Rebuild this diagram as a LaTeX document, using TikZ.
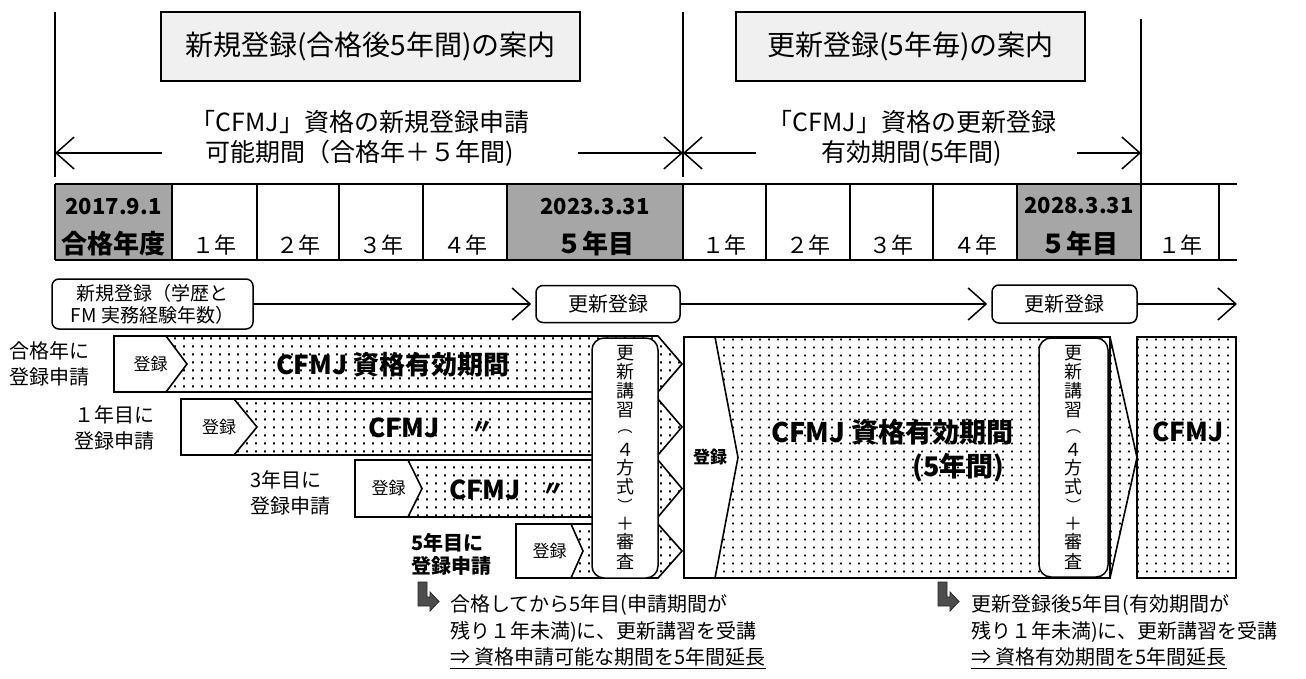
\documentclass[tikz,border=0pt]{standalone}
\usepackage{fontspec}
\setmainfont{Noto Sans CJK JP}
\usetikzlibrary{arrows.meta,patterns.meta}
\newcommand{\myfs}[2]{\fontsize{#1pt}{#2pt}\selectfont}
\tikzdeclarepattern{
  name=mydots,
  type=uncolored,
  bounding box={(0pt,0pt) and (9pt,8pt)},
  tile size={(9pt,8pt)},
  code={
    \pgfpathrectangle{\pgfpoint{3.5pt}{3pt}}{\pgfpoint{2pt}{2pt}}
    \pgfusepath{fill}
  }
}
\begin{document}
\begin{tikzpicture}[x=1pt,y=-1pt,
  vl/.style={line width=1.4pt},
  hdr/.style={draw, line width=2pt, fill=black!6, inner sep=0pt, font=\myfs{28}{32}},
  spantxt/.style={font=\myfs{25}{30}, align=center},
  arr/.style={line width=1.5pt, -{Straight Barb[length=18pt,width=32pt]}},
  tbl/.style={line width=1.8pt},
  shd/.style={fill=black!35},
  tdate/.style={font=\myfs{22}{22}\bfseries},
  tyr/.style={font=\myfs{22}{22}},
  tbig/.style={font=\myfs{26}{26}\bfseries},
  rbox/.style={draw, line width=1.5pt, rounded corners=7pt, fill=white, inner sep=0pt},
  vbox/.style={draw, line width=1.5pt, rounded corners=12pt, fill=white, inner sep=0pt},
  dotarea/.style={line width=1.6pt, preaction={fill=white}, pattern=mydots},
  wharea/.style={line width=1.6pt, fill=white},
  lbl/.style={font=\myfs{20}{26}, align=left, anchor=west, inner sep=0pt},
  reg/.style={font=\myfs{17}{17}},
  rowtxt/.style={font=\myfs{26}{26}\bfseries},
  vch/.style={font=\myfs{18}{18}, inner sep=0pt},
  vpar/.style={font=\myfs{15}{15}, inner sep=0pt},
  btxt/.style={font=\myfs{20}{20}, anchor=west, inner sep=0pt},
  bendarrow/.pic={\filldraw[fill=black!70, draw=black!85, line width=0.8pt]
     (0,0) -- (9,0) -- (9,15) -- (12,15) -- (12,10) -- (21,19.5) -- (12,29) -- (12,24) -- (0,24) -- cycle;}
]
\useasboundingbox (0,0) rectangle (1306,678);
\fill[white] (0,0) rectangle (1306,678);

% ---------- top span lines ----------
\draw[vl] (55,12) -- (55,177);
\draw[vl] (683,12) -- (683,177);
\draw[vl] (1141,19) -- (1141,184);
\coordinate (L) at (55,153);
\coordinate (M) at (683,153);
\coordinate (R) at (1141,153);

\node[hdr, minimum width=419pt, minimum height=69pt] (h1) at (370.5,46.5) {新規登録(合格後5年間)の案内};
\node[hdr, minimum width=349pt, minimum height=69pt] (h2) at (910.5,46.5) {更新登録(5年毎)の案内};

\node[spantxt] (s1) at (360,138) {「CFMJ」資格の新規登録申請\\可能期間（合格年＋５年間)};
\node[spantxt] (s2) at (912,138) {「CFMJ」資格の更新登録\\有効期間(5年間)};
\coordinate (a1s) at (162,153);
\coordinate (a1e) at (578,153);
\coordinate (a2s) at (756,153);
\coordinate (a2e) at (1077,153);
\draw[arr] (a1s) -- (L);
\draw[arr] (a1e) -- (M);
\draw[arr] (a2s) -- (M);
\draw[arr] (a2e) -- (R);

% ---------- table ----------
\fill[shd] (55,184) rectangle (172,260);
\fill[shd] (507,184) rectangle (683,260);
\fill[shd] (1017,184) rectangle (1141,260);
\draw[tbl] (55,184) -- (1237,184);
\draw[tbl] (55,260) -- (1237,260);
\foreach \xx in {55,172,257,339,423,507,683,766,850,933,1017,1141,1219}
  \draw[tbl] (\xx,184) -- (\xx,260);

\node[tdate] (d0) at (113.5,207) {2017.9.1};
\node[tbig] (y0) at (113.5,244) {合格年度};
\node[tyr] (y1) at (214.5,245) {１年};
\node[tyr] (y2) at (298,245) {２年};
\node[tyr] (y3) at (381,245) {３年};
\node[tyr] (y4) at (465,245) {４年};
\node[tdate] (d5) at (595,207) {2023.3.31};
\node[tbig] (y5) at (595,244) {５年目};
\node[tyr] (y6) at (724.5,245) {１年};
\node[tyr] (y7) at (808,245) {２年};
\node[tyr] (y8) at (891.5,245) {３年};
\node[tyr] (y9) at (975,245) {４年};
\node[tdate] (d10) at (1079,206) {2028.3.31};
\node[tbig] (y10) at (1079,244) {５年目};
\node[tyr] (y11) at (1180,245) {１年};

% ---------- registration flow ----------
\node[rbox, font=\myfs{19}{22}, align=center, minimum width=201pt, minimum height=50pt] (nA) at (152.5,304) {新規登録（学歴と\\FM 実務経験年数）};
\node[rbox, font=\myfs{20}{20}, minimum width=144pt, minimum height=37pt] (nB) at (608,304) {更新登録};
\node[rbox, font=\myfs{20}{20}, minimum width=145pt, minimum height=38pt] (nC) at (1064.5,304) {更新登録};
\coordinate (endC) at (1237,304);
\draw[arr, shorten >=4pt] (nA) -- (nB);
\draw[arr, shorten >=4pt] (nB) -- (nC);
\draw[arr] (nC) -- (endC);

% ---------- rows ----------
\foreach \xa/\ta/\ba/\sa/\pa [count=\i] in {114/336/392/166/187, 181/399/455/234/257, 355/460/517/408/422, 516/524/578/571/583} {
  \pgfmathsetmacro\ma{(\ta+\ba)/2}
  \draw[dotarea] (\xa,\ta) -- (658,\ta) -- (682,\ma) -- (658,\ba) -- (\xa,\ba) -- cycle;
  \draw[wharea] (\xa,\ta) -- (\sa,\ta) -- (\pa,\ma) -- (\sa,\ba) -- (\xa,\ba) -- cycle;
  \node[reg] (reg\i) at ({(\xa+\pa)/2},\ma) {登録};
}
\node[lbl] (l1) at (9,364) {合格年に\\登録申請};
\node[lbl] (l2) at (74,428) {１年目に\\登録申請};
\node[lbl] (l3) at (250,493) {3年目に\\登録申請};
\node[lbl, font=\myfs{20}{23}\bfseries] (l4) at (411,554) {5年目に\\登録申請};

\node[rowtxt] (t1) at (393,365) {CFMJ 資格有効期間};
\node[rowtxt] (t2) at (404,428) {CFMJ};
\node[font=\myfs{22}{22}\bfseries] (q2) at (482,428) {〃};
\node[rowtxt] (t3) at (485,490) {CFMJ};
\node[font=\myfs{22}{22}\bfseries] (q3) at (553,490) {〃};

\node[vbox, minimum width=66pt, minimum height=240pt] (k1) at (625,458) {};
\foreach \ch/\yy [count=\j] in {更/353,新/372,講/391,習/410,４/450,方/468,式/487,＋/524,審/542,査/561}
  \node[vch] (va\j) at (625,\yy) {\ch};
\node[vpar] (vap1) at (625,432) {︵};
\node[vpar] (vap2) at (625,505) {︶};

% ---------- big box ----------
\draw[wharea] (684,337) rectangle (1110,578);
\draw[dotarea] (715,337) -- (1110,337) -- (1137,457.5) -- (1110,578) -- (715,578) -- (738,457.5) -- cycle;
\draw[line width=1.6pt] (684,337) rectangle (1110,578);
\node[font=\myfs{17}{17}\bfseries] (reg5) at (710,457) {登録};
\node[font=\myfs{27}{27}\bfseries] (bt1) at (892,432) {CFMJ 資格有効期間};
\node[font=\myfs{27}{27}\bfseries, anchor=east] (bt2) at (1008,468) {(5年間)};
\node[vbox, minimum width=69pt, minimum height=239pt] (k2) at (1073.5,457.5) {};
\foreach \ch/\yy [count=\j] in {更/353,新/372,講/391,習/410,４/450,方/468,式/487,＋/524,審/542,査/561}
  \node[vch] (vb\j) at (1073.5,\yy) {\ch};
\node[vpar] (vbp1) at (1073.5,432) {︵};
\node[vpar] (vbp2) at (1073.5,505) {︶};

\draw[dotarea] (1137,337) rectangle (1236,578);
\node[rowtxt] (t4) at (1188,432) {CFMJ};

% ---------- notes ----------
\pic at (418,582) {bendarrow};
\pic at (938,582) {bendarrow};
\node[btxt] (n1a) at (450,605) {合格してから5年目(申請期間が};
\node[btxt] (n1b) at (450,632) {残り１年未満)に、更新講習を受講};
\node[btxt] (n1c) at (450,658) {\underline{⇒ 資格申請可能な期間を5年間延長}};
\node[btxt] (n2a) at (971,605) {更新登録後5年目(有効期間が};
\node[btxt] (n2b) at (971,632) {残り１年未満)に、更新講習を受講};
\node[btxt] (n2c) at (971,658) {\underline{⇒ 資格有効期間を5年間延長}};
\end{tikzpicture}
\end{document}
